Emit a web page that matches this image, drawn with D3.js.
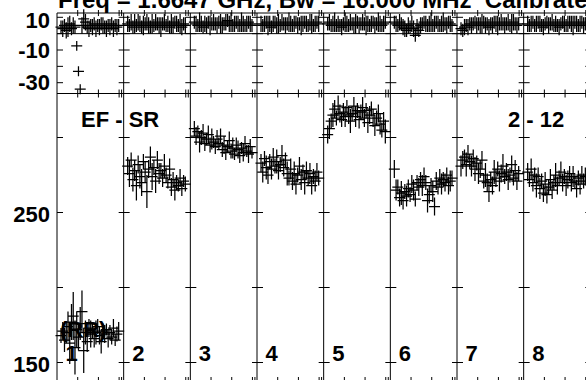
<!DOCTYPE html>
<html>
<head>
<style>
  body { margin: 0; background: #fff; }
  text { font-family: 'Liberation Sans', Arial, sans-serif; font-weight: bold; fill: #000; }
</style>
</head>
<body>
<svg class="chart" width="586" height="380"></svg>
<script src="https://cdnjs.cloudflare.com/ajax/libs/d3/7.8.5/d3.min.js"></script>
<script>

const title = 'Freq = 1.6647 GHz, Bw = 16.000 MHz  Calibrated'
const columns = ['1', '2', '3', '4', '5', '6', '7', '8']
const ampTicks = [10, 0, -10, -20, -30]
const ampLabels = [10, -10, -30]
const phaseTicks = [300, 250, 200, 150]
const phaseLabels = [250, 150]
const timeTicks = [1, 2, 3, 3.12]

// phase (deg) per column, with error half-lengths
const phase1 = [168, 171, 165, 170, 174, 163, 177, 181, 160, 172, 167, 176, 184, 158, 170, 164, 173, 169, 171, 166, 170, 174, 168, 164, 171, 169, 172, 166, 170, 167, 173, 165, 169, 171]
const phaseErr1 = [5, 6, 8, 7, 10, 14, 12, 16, 18, 12, 9, 11, 14, 15, 8, 7, 6, 9, 5, 6, 8, 5, 6, 8, 5, 6, 4, 6, 5, 5, 6, 4, 5, 6]
const phase2 = [281, 276, 285, 272, 278, 268, 282, 274, 270, 284, 277, 264, 279, 287, 274, 280, 271, 285, 276, 278, 273, 281, 275, 270, 279, 267, 272, 265, 270, 268, 273, 266, 271, 269]
const phaseErr2 = [6, 9, 5, 8, 7, 10, 6, 8, 9, 5, 7, 11, 6, 7, 9, 5, 8, 6, 7, 5, 6, 8, 5, 4, 7, 6, 5, 7, 5, 4, 6, 5, 4, 5]
const phase3 = [306, 301, 304, 297, 300, 303, 296, 299, 302, 295, 299, 297, 294, 299, 296, 301, 292, 295, 290, 294, 298, 291, 293, 289, 295, 292, 288, 293, 290, 296, 291, 289, 294, 290]
const phaseErr3 = [5, 6, 4, 7, 5, 6, 5, 4, 6, 5, 7, 4, 5, 6, 4, 5, 5, 6, 5, 4, 6, 5, 7, 4, 5, 6, 5, 4, 6, 5, 4, 6, 5, 4]
const phase4 = [283, 277, 286, 280, 275, 284, 279, 287, 281, 284, 278, 282, 288, 280, 285, 276, 273, 279, 271, 276, 269, 275, 281, 272, 277, 270, 278, 273, 276, 268, 274, 271, 277, 273]
const phaseErr4 = [6, 7, 5, 8, 6, 5, 7, 6, 5, 8, 6, 5, 7, 6, 5, 8, 5, 7, 6, 8, 7, 5, 6, 7, 5, 8, 6, 5, 7, 6, 5, 7, 6, 5]
const phase5 = [302, 306, 311, 315, 319, 313, 321, 316, 312, 317, 314, 320, 315, 311, 316, 321, 314, 318, 312, 317, 320, 313, 318, 310, 315, 319, 313, 308, 313, 316, 309, 305, 311, 304]
const phaseErr5 = [6, 7, 5, 8, 6, 5, 7, 6, 5, 6, 7, 5, 6, 8, 5, 6, 7, 5, 6, 5, 7, 6, 5, 7, 6, 5, 6, 7, 5, 6, 7, 5, 6, 8]
const phase6 = [279, 265, 267, 260, 263, 258, 264, 261, 266, 262, 269, 265, 259, 270, 267, 272, 268, 274, 270, 258, 262, 268, 264, 254, 271, 267, 273, 269, 272, 270, 275, 268, 271, 273]
const phaseErr6 = [6, 7, 5, 6, 8, 6, 5, 7, 6, 5, 6, 7, 5, 5, 6, 5, 7, 6, 5, 8, 6, 5, 7, 6, 6, 5, 6, 7, 5, 6, 5, 6, 7, 5]
const phase7 = [281, 285, 287, 282, 289, 284, 281, 286, 279, 283, 276, 279, 285, 271, 275, 270, 264, 272, 268, 277, 273, 279, 271, 276, 281, 274, 277, 272, 275, 282, 273, 278, 271, 276]
const phaseErr7 = [7, 6, 5, 8, 6, 5, 7, 6, 8, 5, 7, 6, 6, 5, 8, 6, 7, 5, 6, 8, 6, 5, 7, 6, 8, 5, 6, 7, 5, 6, 5, 7, 6, 5]
const phase8 = [277, 272, 279, 270, 275, 268, 274, 266, 271, 263, 269, 262, 267, 272, 265, 270, 275, 268, 273, 277, 270, 274, 268, 272, 276, 270, 274, 271, 266, 273, 269, 275, 271, 274]
const phaseErr8 = [6, 5, 7, 6, 5, 8, 6, 7, 5, 6, 8, 6, 5, 7, 6, 5, 8, 6, 5, 7, 6, 5, 7, 6, 5, 6, 7, 5, 6, 5, 7, 6, 5, 6]

// amplitude per column, with error half-lengths
const amp1 = [4, 3, 5, 2, 4, 6, 3, 5, 4, -7.5, -23, -34, 5, 9, 7, 4, 3, 5, 4, 6, 3, 5, 4, 6, 5, 4, 3, 5, 4, 6, 3, 5, 4, 5]
const ampErr1 = [4, 5, 4, 5, 6, 5, 4, 5, 4, 3, 3, 3, 5, 6, 5, 4, 5, 4, 5, 4, 5, 4, 5, 4, 5, 4, 5, 4, 5, 4, 5, 4, 5, 4]
const amp2 = [6, 5, 7, 4, 6, 5, 7, 6, 4, 5, 6, 7, 5, 4, 6, 5, 7, 6, 5, 4, 6, 7, 5, 6, 4, 6, 5, 7, 6, 5, 6, 4, 6, 5]
const ampErr2 = [5, 4, 5, 4, 6, 4, 5, 5, 4, 6, 4, 5, 5, 4, 6, 4, 5, 4, 5, 6, 4, 5, 4, 5, 4, 6, 5, 4, 5, 4, 6, 5, 4, 5]
const amp3 = [7, 6, 5, 7, 6, 4, 6, 5, 7, 5, 6, 7, 6, 5, 7, 6, 5, 6, 7, 8, 6, 7, 5, 6, 7, 6, 5, 7, 6, 5, 6, 7, 6, 5]
const ampErr3 = [4, 5, 4, 6, 5, 4, 5, 5, 4, 6, 4, 5, 4, 5, 4, 6, 5, 4, 5, 4, 5, 6, 4, 5, 4, 5, 4, 6, 5, 4, 5, 4, 5, 4]
const amp4 = [6, 5, 6, 7, 5, 6, 4, 6, 7, 5, 6, 5, 7, 6, 5, 6, 7, 6, 5, 6, 7, 5, 6, 5, 6, 7, 6, 5, 7, 6, 5, 6, 7, 6]
const ampErr4 = [5, 4, 5, 4, 6, 5, 4, 5, 4, 5, 6, 4, 5, 4, 5, 4, 6, 5, 4, 5, 4, 5, 4, 6, 5, 4, 5, 4, 5, 6, 4, 5, 4, 5]
const amp5 = [6, 7, 5, 6, 7, 5, 6, 5, 4, 6, 7, 6, 5, 7, 6, 5, 6, 7, 5, 6, 7, 6, 5, 6, 5, 6, 7, 5, 6, 7, 6, 5, 6, 7]
const ampErr5 = [4, 5, 4, 5, 6, 4, 5, 4, 5, 4, 6, 5, 4, 5, 4, 5, 6, 4, 5, 4, 5, 4, 6, 5, 4, 5, 4, 5, 4, 6, 5, 4, 5, 4]
const amp6 = [7, 6, 5, 7, 6, 4, 3, 2, 5, 4, 6, 3, -1, 4, 2, 5, 6, 7, 6, 5, 6, 7, 5, 6, 7, 6, 5, 6, 7, 6, 5, 7, 6, 5]
const ampErr6 = [4, 5, 4, 5, 4, 5, 5, 4, 5, 4, 5, 5, 4, 5, 4, 5, 4, 4, 5, 4, 5, 6, 4, 5, 4, 5, 4, 5, 6, 4, 5, 4, 5, 4]
const amp7 = [3, 2, 4, 5, 4, 6, 5, 6, 7, 5, 6, 5, 6, 7, 5, 6, 4, 6, 5, 7, 6, 5, 6, 7, 6, 5, 6, 7, 5, 6, 7, 6, 5, 6]
const ampErr7 = [4, 4, 5, 4, 5, 4, 5, 4, 4, 5, 4, 5, 6, 4, 5, 4, 5, 4, 5, 4, 5, 6, 4, 5, 4, 5, 4, 5, 4, 6, 5, 4, 5, 4]
const amp8 = [6, 5, 6, 7, 5, 6, 7, 6, 5, 4, 6, 7, 5, 6, 7, 5, 6, 5, 4, 6, 7, 6, 5, 6, 7, 6, 5, 7, 6, 5, 6, 7, 5, 6]
const ampErr8 = [5, 4, 5, 4, 4, 5, 4, 5, 4, 5, 4, 4, 5, 4, 5, 4, 5, 4, 5, 4, 4, 5, 4, 5, 4, 5, 6, 4, 5, 4, 5, 4, 5, 4]

const phases = [phase1, phase2, phase3, phase4, phase5, phase6, phase7, phase8]
const phaseErrs = [phaseErr1, phaseErr2, phaseErr3, phaseErr4, phaseErr5, phaseErr6, phaseErr7, phaseErr8]
const amps = [amp1, amp2, amp3, amp4, amp5, amp6, amp7, amp8]
const ampErrs = [ampErr1, ampErr2, ampErr3, ampErr4, ampErr5, ampErr6, ampErr7, ampErr8]

const plotLeft = 57, plotTop = 13, plotMid = 93.5, plotBottom = 382, W = 586

const svg = d3.select('.chart')

const x = d3.scaleBand().domain(columns).range([plotLeft, plotLeft + 8 * 66.667])
const bw = x.bandwidth()
const xt = d3.scaleLinear().domain([0, 3.22]).range([0, bw])
const yAmp = d3.scaleLinear().domain([10, -30]).range([17.3, 82.7])
const yPh = d3.scaleLinear().domain([300, 150]).range([137.5, 362.5])

const boundaries = d3.range(columns.length + 1).map(i => plotLeft + i * bw)

const frame = svg.append('g').attr('stroke', '#000').attr('stroke-width', 1)

// horizontal frame lines and zero line
;[plotTop, plotMid, plotBottom, yAmp(0)].forEach(yy => {
  frame.append('line').attr('x1', plotLeft).attr('x2', W).attr('y1', yy).attr('y2', yy)
})

// column separators
frame.selectAll('.sep').data(boundaries).enter().append('line')
  .attr('x1', d => d).attr('x2', d => d).attr('y1', plotTop).attr('y2', plotBottom)

// y ticks on every column boundary
boundaries.forEach((bx, i) => {
  const x0 = i === 0 ? bx : bx - 5
  const x1 = bx + 6
  ampTicks.forEach(v => frame.append('line').attr('x1', x0).attr('x2', x1).attr('y1', yAmp(v)).attr('y2', yAmp(v)))
  phaseTicks.forEach(v => frame.append('line').attr('x1', x0).attr('x2', x1).attr('y1', yPh(v)).attr('y2', yPh(v)))
})

// time ticks in each column
columns.forEach(c => {
  timeTicks.forEach(t => {
    const tx = x(c) + xt(t)
    frame.append('line').attr('x1', tx).attr('x2', tx).attr('y1', plotTop - 3).attr('y2', plotTop + 3)
    frame.append('line').attr('x1', tx).attr('x2', tx).attr('y1', plotMid - 4).attr('y2', plotMid + 4)
    frame.append('line').attr('x1', tx).attr('x2', tx).attr('y1', plotBottom - 5).attr('y2', plotBottom)
  })
})

// crosses
function crosses(vals, errs, yScale, c) {
  const px = d3.scalePoint().domain(d3.range(vals.length)).range([x(c) + 4, x(c) + bw - 5])
  let p = ''
  vals.forEach((v, i) => {
    const cx = px(i), cy = yScale(v)
    const e = Math.abs(yScale(v + errs[i]) - cy)
    p += `M${cx - 5.5},${cy}H${cx + 5.5}M${cx},${cy - e}V${cy + e}`
  })
  return p
}

const marks = svg.append('g').attr('fill', 'none').attr('stroke', '#000').attr('stroke-width', 1.25)
columns.forEach((c, ci) => {
  marks.append('path').attr('d', crosses(phases[ci], phaseErrs[ci], yPh, c))
  marks.append('path').attr('d', crosses(amps[ci], ampErrs[ci], yAmp, c))
})

// axis labels
svg.selectAll('.al').data(ampLabels).enter().append('text')
  .attr('x', 50).attr('y', d => Math.max(yAmp(d), 20.8))
  .attr('text-anchor', 'end').attr('dominant-baseline', 'central')
  .style('font-size', '22px').text(d => d)

svg.selectAll('.pl').data(phaseLabels).enter().append('text')
  .attr('x', 50).attr('y', d => yPh(d) + 2)
  .attr('text-anchor', 'end').attr('dominant-baseline', 'central')
  .style('font-size', '22px').text(d => d)

// column numbers
svg.selectAll('.cn').data(columns).enter().append('text')
  .attr('x', d => x(d) + 8.5).attr('y', 361)
  .style('font-size', '22px').text(d => d)

svg.append('text').attr('x', 60).attr('y', 337).style('font-size', '22px').text('(RR)')
svg.append('text').attr('x', 81).attr('y', 127).style('font-size', '22px').text('EF - SR')
svg.append('text').attr('x', 508).attr('y', 127).style('font-size', '22px').text('2 - 12')

svg.append('text').attr('x', 58).attr('y', 8)
  .style('font-size', '24px').style('white-space', 'pre').text(title)

</script>
</body>
</html>
